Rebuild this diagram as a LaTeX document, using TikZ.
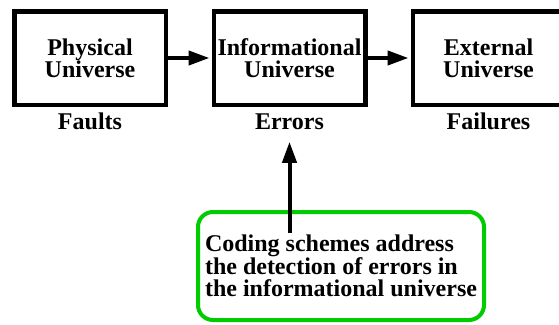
\documentclass[tikz,border=0pt]{standalone}
\usepackage{fontspec}
\setmainfont{Liberation Serif}
\usetikzlibrary{arrows.meta}
\definecolor{notegreen}{RGB}{0,204,0}

\begin{document}
\begin{tikzpicture}[x=1pt, y=-1pt,
    universe/.style={draw, line width=4.5pt, minimum width=151.5pt, minimum height=93.5pt,
        align=center, font=\fontsize{24}{22}\selectfont\bfseries},
    tag/.style={anchor=base, font=\fontsize{24}{22}\selectfont\bfseries},
    link/.style={line width=4pt, -{Triangle[length=21pt, width=14pt]}},
    note/.style={draw=notegreen, line width=4pt, rounded corners=15pt, minimum width=286pt,
        minimum height=108pt, align=left, font=\fontsize{24}{22}\selectfont\bfseries}]
    \useasboundingbox (0,0) rectangle (559,324);
    % the three universes
    \node[universe] (phys) at (90,58) {Physical\\Universe};
    \node[universe] (info) at (289.5,58) {Informational\\Universe};
    \node[universe] (ext) at (488.5,58) {External\\Universe};
    \node[tag] (faults) at (90,129) {Faults};
    \node[tag] (errs) at (289.5,129) {Errors};
    \node[tag] (fails) at (488.5,129) {Failures};
    \draw[link, shorten >=2pt] (phys.east) -- (info.west);
    \draw[link, shorten >=2pt] (info.east) -- (ext.west);
    % coding schemes
    \node[note] (code) at (341,266) {Coding schemes address\\the detection of errors in\\the informational universe};
    \coordinate (tail) at (errs.center |- 0,233);
    \draw[link, shorten >=9pt] (tail) -- (errs.south);
\end{tikzpicture}
\end{document}
